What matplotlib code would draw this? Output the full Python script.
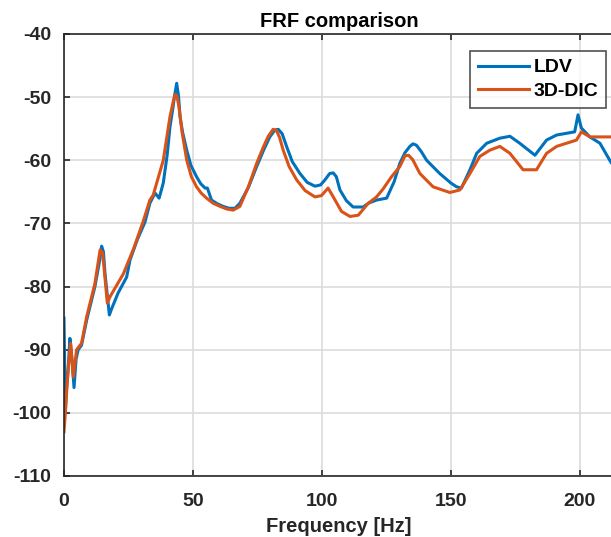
import numpy as np
import matplotlib
matplotlib.use("Agg")
from matplotlib import pyplot as plt

# data (Hz, dB)
f_ldv = [0, 0.2, 0.5, 1.0, 1.6, 2.3, 3.0, 3.9, 4.7, 5.5, 6.8, 8.8, 12.0, 14.0,
         14.6, 15.3, 15.9, 17.6, 18.5, 21, 24.3, 25.6, 28.5, 31.4, 33.3, 35.3,
         36.9, 38.5, 40.0, 41.1, 42.2, 43.0, 43.7, 44.4, 45, 46, 47.6, 49.2,
         51.4, 53.0, 54.7, 55.6, 57.2, 59.5, 61.7, 64.0, 66.3, 68.2, 71.5, 74.7,
         77.5, 79.8, 81.8, 83.1, 84.6, 86.3, 88.5, 91.5, 94.3, 97.3, 99.5,
         101.2, 103, 104.4, 105.6, 107, 109.5, 112.1, 116, 118, 121.2, 125.1,
         128, 130.2, 132.2, 134.1, 135.3, 136.6, 138.5, 140.6, 145.7, 150,
         152.2, 154.1, 157.4, 160, 163.9, 169, 172.9, 176.7, 182.6, 187.1,
         191, 198, 199.3, 200.6, 203.9, 207.8, 211.6, 214]
ldv = [-85, -90.5, -100, -96, -93.2, -88.2, -91, -96, -91.5, -90, -89.3, -85.3,
       -80, -75.5, -73.6, -74.5, -77.9, -84.5, -83.5, -81, -78.5, -75.8, -72.5,
       -69.8, -66.8, -65.2, -66, -63.6, -59.2, -54.7, -51.8, -49.5, -47.8,
       -49.8, -53.1, -55.6, -58.4, -60.8, -62.6, -63.7, -64.4, -64.4, -66.3,
       -66.9, -67.3, -67.6, -67.6, -66.8, -64.3, -61, -58.3, -56.3, -55.2,
       -55.1, -55.8, -57.8, -60.2, -62.1, -63.5, -64.1, -63.9, -63.1, -62.1,
       -62, -62.6, -64.7, -66.4, -67.4, -67.4, -66.8, -66.3, -66, -63.4, -60.5,
       -58.8, -57.8, -57.4, -57.6, -58.6, -60, -62.1, -63.6, -64.2, -64.4,
       -61.5, -58.9, -57.3, -56.5, -56.2, -57.3, -59.2, -56.8, -56, -55.5,
       -52.8, -54.9, -56.3, -57.3, -60, -61.5]

f_dic = [0, 0.4, 1.0, 1.7, 2.6, 3.6, 4.9, 6.8, 8.8, 12, 14, 15, 16.8, 18, 23,
         27, 30.7, 33.3, 34.6, 38.5, 41.1, 42.2, 43, 43.8, 44.6, 45.8, 47.6,
         49.4, 51.4, 53.2, 55.3, 57.8, 60.5, 63.0, 65.6, 68.2, 71.5, 74.7,
         77.3, 79.2, 81.1, 82.4, 83.6, 85, 87.3, 90.2, 93.5, 97.3, 99.8, 102.4,
         104.4, 107.6, 110.9, 114.1, 118, 121.2, 123.8, 127, 130.2, 132.2,
         133.6, 135.2, 138, 143.1, 149.6, 153.5, 157.4, 161.2, 165.1, 169,
         172.9, 178, 183.2, 187.1, 191, 198.7, 200.6, 203.9, 211.6, 214]
dic = [-103, -100.8, -97, -92.7, -89, -94.3, -90, -89, -84.8, -79.5, -74.2,
       -74.7, -82.6, -81.5, -78, -74, -69.7, -66.3, -65.5, -60, -53.1, -51,
       -49.6, -49.8, -51.6, -55.6, -60, -62.6, -64.2, -65.2, -66, -66.8, -67.3,
       -67.7, -67.9, -67.3, -64.2, -60.5, -57.9, -56.2, -55.1, -55.3, -56.4,
       -58.4, -61, -63.1, -64.8, -65.8, -65.6, -64.4, -65.8, -68.1, -68.9,
       -68.7, -66.8, -65.8, -64.5, -62.6, -61, -59.3, -59.2, -59.9, -62.1,
       -64.2, -65.1, -64.7, -62.1, -59.4, -58.4, -57.8, -58.9, -61.5, -61.5,
       -58.9, -57.8, -56.8, -55.5, -56.3, -56.3, -56.3]

xticks = [0, 50, 100, 150, 200]
yticks = [-110, -100, -90, -80, -70, -60, -50, -40]

plt.rcParams['font.family'] = ['Liberation Sans', 'DejaVu Sans']
plt.rcParams['font.weight'] = 'bold'
plt.rcParams['axes.unicode_minus'] = False

fig = plt.figure(figsize=(6.11, 5.37), dpi=100)
ax = fig.add_axes([0.1047, 0.1136, 0.9, 0.8231])

ax.plot(f_ldv, ldv, color='#0072BD', lw=2.2, label='LDV')
ax.plot(f_dic, dic, color='#D95319', lw=2.2, label='3D-DIC')

ax.set_xlim(0, 213.2)
ax.set_ylim(-110, -40)
ax.set_xticks(xticks)
ax.set_yticks(yticks)
ax.grid(True, color='#dcdcdc', lw=1.2)
ax.set_axisbelow(True)
ax.tick_params(direction='in', length=4, width=1.2, colors='#262626',
               labelsize=14, top=True, right=False)
ax.tick_params(axis='y', pad=9)
ax.tick_params(axis='x', pad=12)
for lab in ax.get_xticklabels() + ax.get_yticklabels():
    lab.set_fontweight('bold')
for s in ['left', 'bottom', 'top']:
    ax.spines[s].set_color('#262626')
    ax.spines[s].set_linewidth(1.2)
ax.spines['right'].set_visible(False)

ax.set_title('FRF comparison', fontsize=14.5, fontweight='bold', color='black', pad=5)
ax.set_xlabel('Frequency [Hz]', fontsize=14.5, fontweight='bold', color='#262626', labelpad=5)

leg = ax.legend(loc='upper right', bbox_to_anchor=(0.992, 0.905),
                bbox_transform=fig.transFigure, fontsize=14, frameon=True,
                fancybox=False, edgecolor='#262626', handlelength=2.6,
                handletextpad=0.25, labelspacing=0.3, borderpad=0.4,
                borderaxespad=0)
leg.get_frame().set_linewidth(1.2)
for t in leg.get_texts():
    t.set_fontweight('bold')

plt.savefig('out.png', dpi=100)
